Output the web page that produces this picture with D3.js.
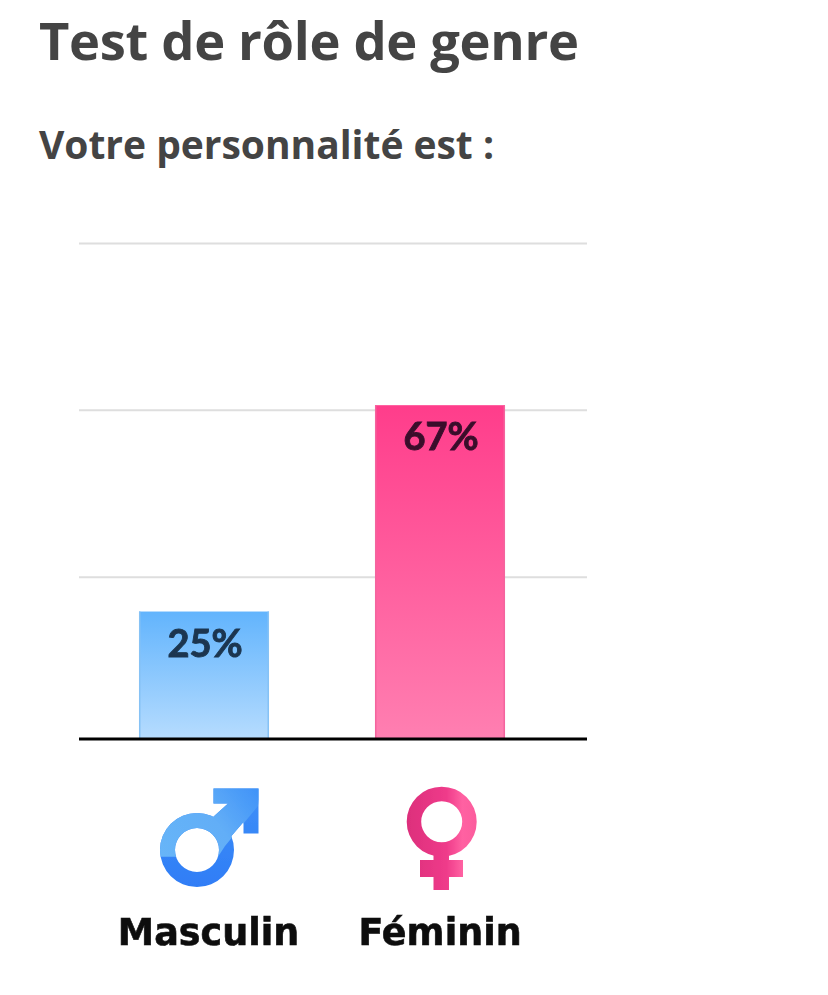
<!DOCTYPE html>
<html lang="fr">
<head>
<meta charset="utf-8">
<script src="https://cdn.jsdelivr.net/npm/d3@7"></script>
<style>
html,body{margin:0;padding:0;background:#fff}
svg{display:block}
</style>
</head>
<body>
<svg id="c" width="828" height="995"></svg>
<script>
const titleText = "Test de rôle de genre";
const subtitleText = "Votre personnalité est :";
const categories = ["Masculin", "Féminin"];
const barValues = [25.7, 67.3];
const barLabels = ["25%", "67%"];
const gridTicks = [32.7, 66.4, 100];
const topColors = ["#62b4fd", "#ff3d8b"];
const bottomColors = ["#b6dcfe", "#ff7fb1"];
const edgeColors = ["#86c2f5", "#f4649e"];
const labelColors = ["#1b3650", "#3a0d2c"];

const svg = d3.select("#c");
const defs = svg.append("defs");
defs.append("filter").attr("id", "soft").attr("x", "-10%").attr("y", "-10%").attr("width", "120%").attr("height", "120%")
  .append("feGaussianBlur").attr("stdDeviation", 0.7);

const x = d3.scaleBand().domain(categories).range([86, 558]).paddingInner(0.449).paddingOuter(0.2245);
const y = d3.scaleLinear().domain([0, 100]).range([739, 243]);

svg.append("text").attr("x", 39).attr("y", 60)
  .attr("font-family", "'Open Sans'").attr("font-weight", 700).attr("font-size", 52.5)
  .attr("fill", "#444").attr("textLength", 540).attr("lengthAdjust", "spacing").text(titleText);
svg.append("text").attr("x", 39).attr("y", 159)
  .attr("font-family", "'Open Sans'").attr("font-weight", 700).attr("font-size", 39)
  .attr("fill", "#444").attr("textLength", 455).attr("lengthAdjust", "spacing").text(subtitleText);

// grid
const gridAxis = d3.axisLeft(y).tickValues(gridTicks).tickSize(-508).tickFormat("");
const gridG = svg.append("g").attr("transform", "translate(79,0)").call(gridAxis);
gridG.select(".domain").remove();
gridG.selectAll(".tick line").attr("stroke", "#dedede").attr("stroke-width", 2);

// bars
categories.forEach((c, i) => {
  const g = defs.append("linearGradient").attr("id", "bar" + i)
    .attr("x1", 0).attr("x2", 0).attr("y1", 0).attr("y2", 1);
  g.append("stop").attr("offset", 0).attr("stop-color", topColors[i]);
  g.append("stop").attr("offset", 1).attr("stop-color", bottomColors[i]);
});
const rows = categories.map((c, i) => ({ c, v: barValues[i], l: barLabels[i], i }));
svg.selectAll("rect.bar").data(rows).join("rect").attr("class", "bar")
  .attr("x", d => x(d.c)).attr("width", x.bandwidth())
  .attr("y", d => y(d.v)).attr("height", d => y(0) - y(d.v))
  .attr("fill", d => `url(#bar${d.i})`);
svg.selectAll("path.edge").data(rows).join("path").attr("class", "edge")
  .attr("d", d => `M${x(d.c) + 0.75},${y(d.v)}V${y(0)}M${x(d.c) + x.bandwidth() - 0.75},${y(d.v)}V${y(0)}`)
  .attr("stroke", d => edgeColors[d.i]).attr("stroke-width", 1.5).attr("fill", "none");
svg.selectAll("text.val").data(rows).join("text").attr("class", "val")
  .attr("x", d => x(d.c) + x.bandwidth() / 2 + 1).attr("y", d => y(d.v) + 45)
  .attr("text-anchor", "middle").attr("font-family", "Lato").attr("font-weight", 700)
  .attr("font-size", 38).attr("stroke", d => labelColors[d.i]).attr("stroke-width", 0.9)
  .attr("filter", "url(#soft)")
  .attr("fill", d => labelColors[d.i]).text(d => d.l);

// baseline + category labels
const xAxis = d3.axisBottom(x).tickSize(0).tickPadding(180);
const xG = svg.append("g").attr("transform", `translate(0,${y(0)})`).call(xAxis);
xG.select(".domain").attr("d", "M79,0H587").attr("stroke", "#000").attr("stroke-width", 3);
xG.selectAll(".tick text").attr("font-family", "'DejaVu Sans'").attr("font-weight", 700)
  .attr("font-size", 36.5).attr("fill", "#0c0c0c").attr("dy", "0.71em")
  .attr("stroke", "#0c0c0c").attr("stroke-width", 0.6)
  .attr("filter", "url(#soft)")
  .attr("dx", (d, i) => i === 0 ? 4.5 : 0);

// gender icons
const maleDark = defs.append("linearGradient").attr("id", "maleDark").attr("gradientUnits", "userSpaceOnUse")
  .attr("x1", 0).attr("x2", 0).attr("y1", 788).attr("y2", 888);
maleDark.append("stop").attr("offset", 0).attr("stop-color", "#3f90f8");
maleDark.append("stop").attr("offset", 1).attr("stop-color", "#2f7df6");
const maleLight = defs.append("linearGradient").attr("id", "maleLight").attr("gradientUnits", "userSpaceOnUse")
  .attr("x1", 165).attr("y1", 860).attr("x2", 258).attr("y2", 790);
maleLight.append("stop").attr("offset", 0).attr("stop-color", "#67b5f8");
maleLight.append("stop").attr("offset", 0.55).attr("stop-color", "#62aef7");
maleLight.append("stop").attr("offset", 1).attr("stop-color", "#4093f8");
defs.append("clipPath").attr("id", "maleClip").append("polygon")
  .attr("points", "150,856.7 218,856.7 225,846 258,806 262,780 150,780");
const fg = defs.append("linearGradient").attr("id", "female").attr("gradientUnits", "userSpaceOnUse")
  .attr("x1", 408).attr("x2", 478).attr("y1", 0).attr("y2", 0);
fg.append("stop").attr("offset", 0).attr("stop-color", "#dd2f7c");
fg.append("stop").attr("offset", 0.55).attr("stop-color", "#ef3b8a");
fg.append("stop").attr("offset", 0.78).attr("stop-color", "#ff62a2");
fg.append("stop").attr("offset", 1).attr("stop-color", "#fb5a9c");

const ringPath = (cx, cy, r0, r1) => {
  const p = d3.path();
  p.moveTo(cx + r1, cy); p.arc(cx, cy, r1, 0, 2 * Math.PI); p.closePath();
  p.moveTo(cx + r0, cy); p.arc(cx, cy, r0, 0, 2 * Math.PI); p.closePath();
  return p.toString();
};
const maleShape = (g, fill) => {
  g.append("path").attr("d", ringPath(197, 850, 22, 37)).attr("fill-rule", "evenodd").attr("fill", fill);
  g.append("path").attr("fill", fill)
    .attr("d", "M213.5,788.5 H258.5 V833.5 H243.5 V822 L228,840 L212,818 L228,803.5 H213.5 Z");
};
const male = svg.append("g").attr("filter", "url(#soft)");
maleShape(male.append("g"), "url(#maleDark)");
maleShape(male.append("g").attr("clip-path", "url(#maleClip)"), "url(#maleLight)");

const female = svg.append("g").attr("fill", "url(#female)").attr("filter", "url(#soft)");
female.append("path").attr("d", ringPath(441.7, 821.7, 20.5, 35)).attr("fill-rule", "evenodd");
female.append("path")
  .attr("d", "M433.5,854 H449 V860 H463 V877 H449 V890 H433.5 V877 H420 V860 H433.5 Z");
</script>
</body>
</html>
